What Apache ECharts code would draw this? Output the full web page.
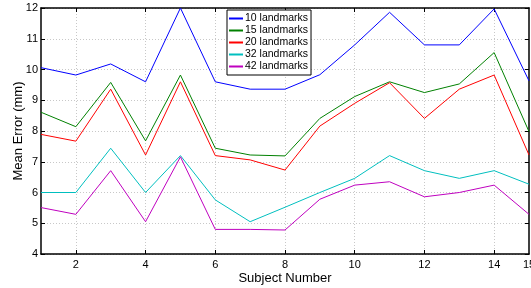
<!DOCTYPE html>
<html>
<head>
<meta charset="utf-8">
<script src="https://cdn.jsdelivr.net/npm/echarts@6/dist/echarts.min.js"></script>
<style>
  html, body { margin: 0; padding: 0; background: #fff; }
  #chart { width: 531px; height: 288px; }
</style>
</head>
<body>
<div id="chart"></div>
<script>
var subjects = [1, 2, 3, 4, 5, 6, 7, 8, 9, 10, 11, 12, 13, 14, 15];
var xTicks = [2, 4, 6, 8, 10, 12, 14, 15];
var names = ['10 landmarks', '15 landmarks', '20 landmarks', '32 landmarks', '42 landmarks'];
var colors = ['#0000ff', '#008000', '#ff0000', '#00bfbf', '#bf00bf'];

var lm10 = [10.06, 9.82, 10.18, 9.60, 12.0, 9.60, 9.36, 9.36, 9.83, 10.80, 11.86, 10.80, 10.80, 11.97, 9.63];
var lm15 = [8.61, 8.14, 9.58, 7.68, 9.82, 7.44, 7.22, 7.19, 8.41, 9.12, 9.60, 9.25, 9.53, 10.55, 7.98];
var lm20 = [7.89, 7.67, 9.36, 7.22, 9.60, 7.20, 7.06, 6.73, 8.16, 8.90, 9.57, 8.41, 9.36, 9.82, 7.22];
var lm32 = [6.00, 6.00, 7.44, 6.00, 7.20, 5.76, 5.05, 5.52, 6.00, 6.46, 7.20, 6.71, 6.46, 6.71, 6.27];
var lm42 = [5.51, 5.29, 6.71, 5.05, 7.16, 4.80, 4.80, 4.78, 5.78, 6.24, 6.35, 5.86, 6.00, 6.24, 5.29];
var allData = [lm10, lm15, lm20, lm32, lm42];

var font = 'Liberation Sans, Arial, sans-serif';
var myChart = echarts.init(document.getElementById('chart'));

function pairs(vals){
    return subjects.map(function(x, i){ return [x, vals[i]]; });
}

var series = [];
for (var i = 0; i < names.length; i++) {
    series.push({
        name: names[i],
        type: 'line',
        data: pairs(allData[i]),
        symbol: 'none',
        animation: false,
        lineStyle: { color: colors[i], width: 1 },
        itemStyle: { color: colors[i] }
    });
}

var gridLine = { show: true, lineStyle: { color: '#c8c8c8', type: [1, 2], width: 1 } };

var option = {
    animation: false,
    grid: { left: 41, right: 2, top: 8, bottom: 34, outerBoundsMode: 'none' },
    legend: {
        orient: 'vertical',
        left: 227,
        top: 10,
        padding: [3, 3, 3, 2],
        itemGap: 1,
        itemWidth: 14,
        itemHeight: 2,
        icon: 'rect',
        backgroundColor: '#fff',
        borderColor: '#000',
        borderWidth: 1,
        borderRadius: 0,
        textStyle: { fontFamily: font, fontSize: 10.5, color: '#000', padding: [0, 0, 0, -3] },
        data: names
    },
    xAxis: [{
        type: 'value',
        min: 1,
        max: 15,
        name: 'Subject Number',
        nameLocation: 'middle',
        nameGap: 18,
        nameMoveOverlap: false,
        nameTextStyle: { fontFamily: font, fontSize: 13, color: '#000' },
        axisLine: { lineStyle: { color: '#000', width: 1.5 } },
        axisTick: { inside: true, length: 4, customValues: [2, 4, 6, 8, 10, 12, 14], lineStyle: { color: '#000' } },
        axisLabel: { customValues: xTicks, alignMaxLabel: 'center', hideOverlap: false, fontFamily: font, fontSize: 11, color: '#000', margin: 5 },
        splitLine: gridLine
    }, {
        type: 'value',
        position: 'top',
        min: 1,
        max: 15,
        axisLine: { show: true, lineStyle: { color: '#000', width: 1.5 } },
        axisTick: { inside: true, length: 4, customValues: [2, 4, 6, 8, 10, 12, 14], lineStyle: { color: '#000' } },
        axisLabel: { show: false },
        splitLine: { show: false }
    }],
    yAxis: [{
        type: 'value',
        min: 4,
        max: 12,
        interval: 1,
        name: 'Mean Error (mm)',
        nameLocation: 'middle',
        nameGap: 16,
        nameMoveOverlap: false,
        nameTextStyle: { fontFamily: font, fontSize: 13, color: '#000' },
        axisLine: { show: true, lineStyle: { color: '#000', width: 1.5 } },
        axisTick: { show: true, inside: true, length: 4, lineStyle: { color: '#000' } },
        axisLabel: { fontFamily: font, fontSize: 11, color: '#000', margin: 3 },
        splitLine: gridLine
    }, {
        type: 'value',
        position: 'right',
        min: 4,
        max: 12,
        interval: 1,
        axisLine: { show: true, lineStyle: { color: '#000', width: 1.5 } },
        axisTick: { show: true, inside: true, length: 4, lineStyle: { color: '#000' } },
        axisLabel: { show: false },
        splitLine: { show: false }
    }],
    series: series
};
myChart.setOption(option);
</script>
</body>
</html>
